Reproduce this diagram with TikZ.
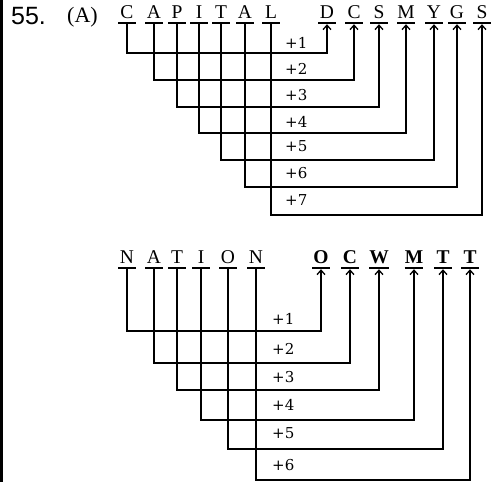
\documentclass[tikz,border=0pt]{standalone}
\usepackage{fontspec}
\setmainfont{Liberation Serif}
\newfontfamily\numfont{Liberation Sans}
\newfontfamily\lblfont{DejaVu Serif}
\usetikzlibrary{arrows.meta}
\begin{document}
\begin{tikzpicture}[x=1pt,y=-1pt,
  letter/.style={anchor=south,inner sep=0pt,text height=13pt,text depth=4pt,minimum width=17pt,
    font=\fontsize{19.5}{19.5}\selectfont},
  bletter/.style={letter,font=\fontsize{19.5}{19.5}\selectfont\bfseries},
  uline/.style={line width=2.3pt},
  conn/.style={line width=1.3pt,-{Straight Barb[length=4.5pt,width=8pt,line width=1.3pt]},shorten >=1.2pt},
  plus/.style={anchor=west,inner sep=0pt,font=\lblfont\fontsize{15}{15}\selectfont}]
\useasboundingbox (0,0) rectangle (492,482);
\draw[line width=2.5pt] (1.5,0) -- (1.5,482);
\node[anchor=west,inner sep=0pt,font=\numfont\fontsize{25}{25}\selectfont] (q) at (11,16.5) {55.};
\node[anchor=west,inner sep=0pt,font=\fontsize{22}{22}\selectfont] (qa) at (67,17) {(A)};
% top word
\foreach \n/\x/\t in {1/127/C,2/154/A,3/177/P,4/199/I,5/221/T,6/245/A,7/271/L}
  {\node[letter] (a\n) at (\x,23) {\t};
   \draw[uline] (a\n.south west) -- (a\n.south east);}
\foreach \n/\x/\t in {1/327/D,2/354/C,3/379/S,4/406/M,5/434/Y,6/457/G,7/482/S}
  {\node[letter] (b\n) at (\x,23) {\t};
   \draw[uline] (b\n.south west) -- (b\n.south east);}
\foreach \n/\y in {1/53,2/80,3/107,4/133,5/160,6/187,7/215}
  \coordinate (r\n) at (0,\y);
\foreach \n in {1,...,7}
  \draw[conn] (a\n.south) -- (a\n.south |- r\n) -| (b\n.south);
\foreach \n/\y in {1/42.5,2/69,3/95,4/121.5,5/146.5,6/173,7/200}
  \node[plus] (p\n) at (285,\y) {+\n};
% bottom word
\foreach \n/\x/\t in {1/127/N,2/154/A,3/177/T,4/201/I,5/228/O,6/256/N}
  {\node[letter] (c\n) at (\x,268) {\t};
   \draw[uline] (c\n.south west) -- (c\n.south east);}
\foreach \n/\x/\t in {1/321/O,2/350/C,3/379/W,4/414/M,5/443/T,6/470/T}
  {\node[bletter] (d\n) at (\x,268) {\t};
   \draw[uline] (d\n.south west) -- (d\n.south east);}
\foreach \n/\y in {1/331,2/363,3/390,4/420,5/449,6/480}
  \coordinate (s\n) at (0,\y);
\foreach \n in {1,...,6}
  \draw[conn] (c\n.south) -- (c\n.south |- s\n) -| (d\n.south);
\foreach \n/\y in {1/319,2/349,3/377,4/405,5/433,6/465}
  \node[plus] (m\n) at (272,\y) {+\n};
\end{tikzpicture}
\end{document}
